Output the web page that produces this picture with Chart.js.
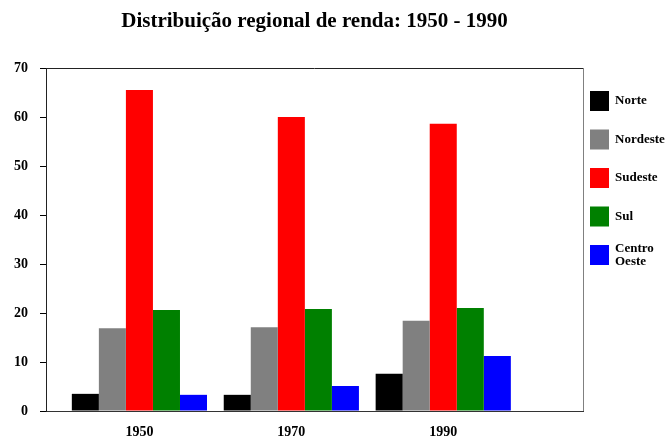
<!DOCTYPE html>
<html>
<head>
<meta charset="utf-8">
<script src="https://cdn.jsdelivr.net/npm/chart.js@4"></script>
<style>
  html, body { margin: 0; padding: 0; background: #fff; }
  #wrap { width: 669px; height: 437px; }
</style>
</head>
<body>
<div id="wrap"><canvas id="rendaChart"></canvas></div>
<script>
const anos = [1950, 1970, 1990];
const regioes = ["Norte", "Nordeste", "Sudeste", "Sul", "Centro Oeste"];
const cores = ["#000000", "#808080", "#ff0000", "#008000", "#0000ff"];
const norte = [3.5, 3.3, 7.6];
const nordeste = [16.9, 17.1, 18.4];
const sudeste = [65.5, 60.0, 58.6];
const sul = [20.6, 20.8, 21.0];
const centroOeste = [3.3, 5.1, 11.2];
const valores = [norte, nordeste, sudeste, sul, centroOeste];
const yTicks = [0, 10, 20, 30, 40, 50, 60, 70];

const serif = "'Liberation Serif', 'Times New Roman', serif";

// top and right edges of the plot box
const framePlugin = {
  id: "frame",
  afterDraw(chart) {
    const { ctx, chartArea: a } = chart;
    ctx.save();
    ctx.lineWidth = 1;
    ctx.strokeStyle = "#222";
    ctx.beginPath();
    ctx.moveTo(a.left, Math.round(a.top) + 0.5);
    ctx.lineTo(a.right, Math.round(a.top) + 0.5);
    ctx.stroke();
    ctx.strokeStyle = "#808080";
    ctx.beginPath();
    ctx.moveTo(Math.round(a.right) + 0.5, a.top);
    ctx.lineTo(Math.round(a.right) + 0.5, a.bottom);
    ctx.stroke();
    ctx.restore();
  },
};

// legend to the right of the box, long names wrap on the space
const sideLegend = {
  id: "sideLegend",
  afterDraw(chart) {
    const { ctx, chartArea: a } = chart;
    ctx.save();
    ctx.font = "bold 13px " + serif;
    ctx.textBaseline = "middle";
    chart.data.datasets.forEach((ds, i) => {
      const y = a.top + 33 + i * 38.5;
      ctx.fillStyle = ds.backgroundColor;
      ctx.fillRect(a.right + 7, y - 10, 19, 20);
      ctx.fillStyle = "#000";
      const lines = ds.label.split(" ");
      lines.forEach((t, k) => {
        ctx.fillText(t, a.right + 32, y + (k - (lines.length - 1) / 2) * 13);
      });
    });
    ctx.restore();
  },
};

new Chart(document.getElementById("rendaChart"), {
  type: "bar",
  data: {
    labels: anos,
    datasets: regioes.map((nome, i) => ({
      label: nome,
      data: valores[i],
      backgroundColor: cores[i],
      borderWidth: 0,
      barPercentage: 1,
      categoryPercentage: 0.89,
    })),
  },
  options: {
    responsive: true,
    maintainAspectRatio: false,
    animation: false,
    layout: { padding: { top: 1, right: 86, left: 0, bottom: 0 } },
    plugins: {
      legend: { display: false },
      tooltip: { enabled: false },
      title: {
        display: true,
        text: "Distribuição regional de renda: 1950 - 1990",
        fullSize: false,
        color: "#000",
        font: { family: serif, size: 21, weight: "bold" },
        padding: { top: 8.4, bottom: 33.4 },
      },
    },
    scales: {
      x: {
        type: "linear",
        min: 1937.7,
        max: 2008.4,
        offset: false,
        grid: { display: false, drawTicks: false },
        border: { display: true, color: "#333" },
        afterBuildTicks: (axis) => {
          axis.ticks = anos.map((v) => ({ value: v }));
        },
        afterFit: (axis) => {
          axis.height = 26;
        },
        ticks: {
          color: "#000",
          padding: 13,
          maxRotation: 0,
          font: { family: serif, size: 14, weight: "bold" },
          callback: (v) => String(v),
        },
      },
      y: {
        min: 0,
        max: 70,
        grid: { drawOnChartArea: false, drawTicks: true, tickLength: 6, color: "#000" },
        border: { display: true, color: "#222" },
        afterBuildTicks: (axis) => {
          axis.ticks = yTicks.map((v) => ({ value: v }));
        },
        afterFit: (axis) => {
          axis.width = 46;
        },
        ticks: {
          color: "#000",
          padding: 12,
          font: { family: serif, size: 14, weight: "bold" },
        },
      },
    },
  },
  plugins: [framePlugin, sideLegend],
});
</script>
</body>
</html>
